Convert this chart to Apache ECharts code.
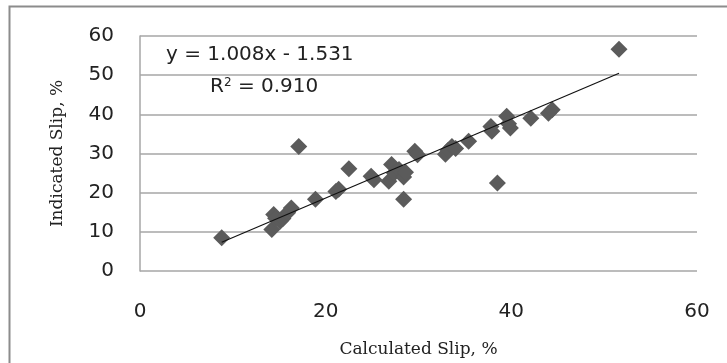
<!DOCTYPE html>
<html lang="en">
<head>
    <meta charset="UTF-8">
    <title>slip</title>
    <style>
        body{margin:0;background:#fff;}
        #main{width:727px;height:363px;}
    </style>
</head>
<body>
<div id="main"></div>
<script src="https://cdn.jsdelivr.net/npm/echarts@6/dist/echarts.min.js"></script>
<script type="text/javascript">
// calculated slip (x) and indicated slip (y), %
var calcSlip = [8.8, 14.2, 14.4, 14.6, 15.1, 15.4, 15.9, 16.3, 17.1, 18.9, 21.1, 21.4, 22.5, 24.9, 25.2,
    26.8, 27.1, 27.4, 27.9, 28.4, 28.6, 28.4, 29.6, 29.9, 32.9, 33.2, 33.6, 34.0, 35.4, 37.8, 37.9,
    38.5, 39.5, 39.9, 39.7, 42.1, 44.0, 44.4, 51.6];
var indSlip = [8.5, 10.6, 14.4, 13.5, 12.7, 13.4, 14.9, 16.1, 31.8, 18.3, 20.3, 20.9, 26.1, 24.2, 23.3,
    22.9, 27.2, 25.0, 25.9, 24.0, 25.2, 18.3, 30.6, 29.7, 29.8, 30.8, 31.8, 31.3, 33.1, 36.9, 35.7,
    22.5, 39.5, 36.5, 37.6, 39.0, 40.3, 41.2, 56.6];
var slope = 1.008, intercept = -1.531;
var xTicks = [0, 20, 40, 60];
var yTicks = [0, 10, 20, 30, 40, 50, 60];

var points = calcSlip.map(function (x, i) { return [x, indSlip[i]]; });
var xMin = Math.min.apply(null, calcSlip), xMax = Math.max.apply(null, calcSlip);
var trend = [[xMin, slope * xMin + intercept], [xMax, slope * xMax + intercept]];

var chart = echarts.init(document.getElementById('main'));
chart.setOption({
    animation: false,
    grid: {left: 140, right: 30, top: 36, bottom: 91},
    graphic: [
        {type: 'rect', shape: {x: 9.5, y: 6.5, width: 730, height: 370},
            style: {fill: 'none', stroke: '#8c8c8c', lineWidth: 2}},
        {type: 'text', left: 166, top: 45,
            style: {text: 'y = 1.008x - 1.531', font: '20px "DejaVu Sans", sans-serif', fill: '#222'}},
        {type: 'text', left: 210, top: 77,
            style: {
                text: '{a|R}{s|2}{a| = 0.910}',
                rich: {
                    a: {font: '20px "DejaVu Sans", sans-serif', fill: '#222'},
                    s: {font: '12px "DejaVu Sans", sans-serif', fill: '#222', verticalAlign: 'top', padding: [0, 0, 8, 0]}
                }
            }}
    ],
    xAxis: {
        type: 'value', min: 0, max: 60, interval: 20,
        name: 'Calculated Slip, %', nameLocation: 'middle', nameGap: 70,
        nameTextStyle: {fontFamily: 'DejaVu Serif', fontSize: 17, color: '#222'},
        axisLine: {show: false}, axisTick: {show: false}, splitLine: {show: false},
        axisLabel: {margin: 31, fontFamily: '"DejaVu Sans", sans-serif', fontSize: 20, color: '#222',
            formatter: function (v) { return xTicks.indexOf(v) >= 0 ? v : ''; }}
    },
    yAxis: {
        type: 'value', min: 0, max: 60, interval: 10,
        name: 'Indicated Slip, %', nameLocation: 'middle', nameGap: 74,
        nameTextStyle: {fontFamily: 'DejaVu Serif', fontSize: 17, color: '#222'},
        axisLine: {show: true, lineStyle: {color: '#a6a6a6', width: 1.5}}, axisTick: {show: false},
        splitLine: {lineStyle: {color: '#a6a6a6', width: 1.5}},
        axisLabel: {margin: 26, fontFamily: '"DejaVu Sans", sans-serif', fontSize: 20, color: '#222',
            formatter: function (v) { return yTicks.indexOf(v) >= 0 ? v : ''; }}
    },
    series: [
        {
            type: 'scatter', data: points, symbol: 'diamond', symbolSize: [17, 17],
            itemStyle: {color: '#5b5b5b', opacity: 1}
        },
        {
            type: 'line', data: trend, symbol: 'none',
            lineStyle: {color: '#111', width: 1.2}
        }
    ]
});
</script>
</body>
</html>
